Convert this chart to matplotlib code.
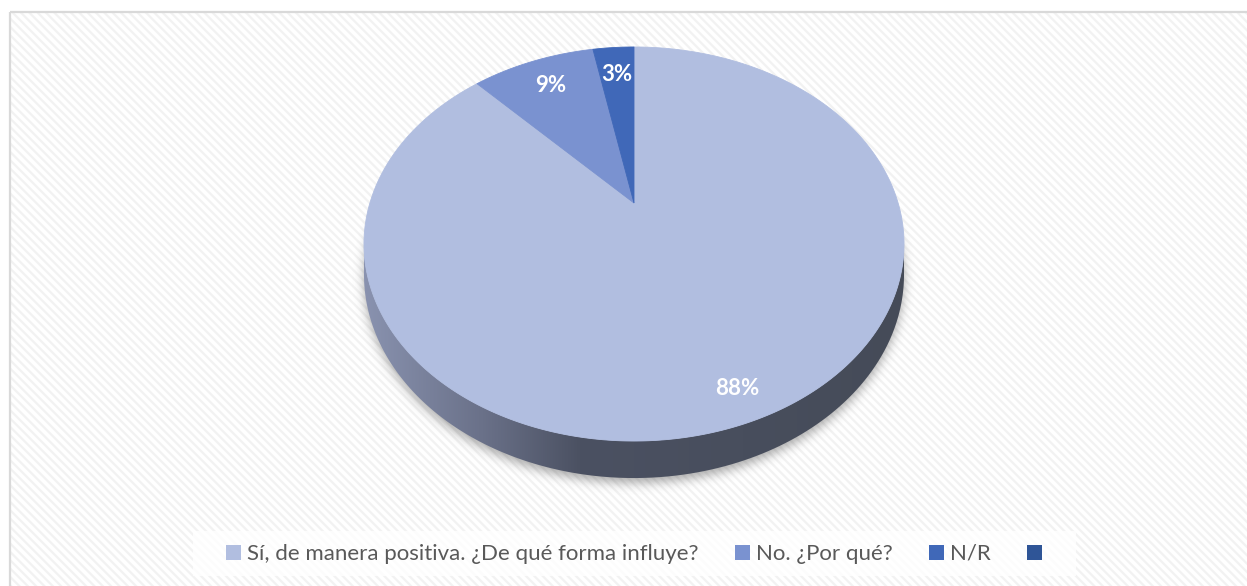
import numpy as np
import matplotlib
matplotlib.use("Agg")
import matplotlib.pyplot as plt
from matplotlib.patches import Polygon, Rectangle, Patch
from matplotlib.path import Path as MPath
from matplotlib.colors import LinearSegmentedColormap

# survey answers (share of respondents, %)
labels = ["Sí, de manera positiva. ¿De qué forma influye?", "No. ¿Por qué?", "N/R", ""]
values = [88, 9, 3, 0]
colors = ["#b1bee0", "#7a92d0", "#4068b8", "#2f5597"]

W, H = 1247, 586

# perspective disc: apex position, half axes, tilt factor and rim depth (px)
CX, CY = 634, 203
A, B, K = 264.1, 188.5, 0.2081
DEPTH = 29.3


def proj(theta, r=1.0, drop=0.0):
    """Project a point on the tilted disc; theta in degrees, clockwise from 12 o'clock."""
    t = np.radians(theta)
    u, v = r * np.sin(t), r * np.cos(t)
    w = 1 + K * v
    return CX + A * u / w, CY - B * v / w + drop / w


def blur(img, sigma):
    n = int(3 * sigma)
    k = np.exp(-0.5 * (np.arange(-n, n + 1) / sigma) ** 2)
    k /= k.sum()
    img = np.apply_along_axis(lambda r: np.convolve(r, k, mode="same"), 1, img)
    img = np.apply_along_axis(lambda c: np.convolve(c, k, mode="same"), 0, img)
    return img


fig = plt.figure(figsize=(W / 100, H / 100), dpi=100)
ax = fig.add_axes([0, 0, 1, 1])
ax.set_xlim(0, W)
ax.set_ylim(H, 0)
ax.axis("off")

plt.rcParams["hatch.linewidth"] = 1.6

# chart area: white with light diagonal stripes and a thin grey border
ax.add_patch(Rectangle((10, 12), W, H, facecolor="white", edgecolor="#f2f2f2",
                       hatch="\\\\\\\\", linewidth=0, zorder=0))
ax.add_patch(Rectangle((10, 12), W, H, facecolor="none", edgecolor="#d9d9d9",
                       linewidth=1.6, zorder=1))

# soft shadow under the disc
th = np.linspace(0, 360, 361)
bx, by = proj(th, drop=DEPTH + 4)
yy, xx = np.mgrid[0:H, 0:W]
inside = MPath(np.column_stack([bx, by])).contains_points(
    np.column_stack([xx.ravel() + 0.5, yy.ravel() + 0.5])).reshape(H, W)
shade = blur(inside.astype(float), 5.0)
rgba = np.zeros((H, W, 4))
rgba[..., :3] = 0.35
rgba[..., 3] = shade * 0.5
ax.imshow(rgba, extent=(0, W, H, 0), zorder=2, interpolation="bilinear")

# visible side wall (front half of the disc)
front = np.linspace(102, 258, 200)
tx, ty = proj(front)
sx, sy = proj(front[::-1], drop=DEPTH)
side = Polygon(np.column_stack([np.r_[tx, sx], np.r_[ty, sy]]), closed=True,
               facecolor="none", edgecolor="none", zorder=3)
ax.add_patch(side)
wall = LinearSegmentedColormap.from_list(
    "wall", [(0, "#8a93b0"), (0.22, "#6a7189"), (0.4, "#4b5162"), (1, "#454b58")])
grad = ax.imshow(np.linspace(0, 1, 256)[None, :], cmap=wall, aspect="auto",
                 extent=(CX - A * 1.03, CX + A * 1.03, 490, 230), zorder=3)
grad.set_clip_path(side)

# top face wedges, starting at 12 o'clock and running clockwise
total = sum(values)
start = 0.0
for val, col in zip(values, colors):
    span = 360.0 * val / total
    if span <= 0:
        continue
    arc = np.linspace(start, start + span, max(int(span * 2), 4))
    px, py = proj(arc)
    ax.add_patch(Polygon(np.column_stack([np.r_[CX, px], np.r_[CY, py]]), closed=True,
                         facecolor=col, edgecolor=col, linewidth=0.6, zorder=4))
    start += span

# percentage labels
start = 0.0
for val in values:
    span = 360.0 * val / total
    if val > 0:
        r = 0.88 if span > 180 else 0.8
        lx, ly = proj(start + span / 2, r=r)
        ax.text(lx, ly, f"{val}%", color="white", fontsize=16, fontweight="bold",
                family="Lato", ha="center", va="center", zorder=5)
    start += span

# legend strip
ax.add_patch(Rectangle((193, 531), 883, 45, facecolor="white", alpha=0.8,
                       edgecolor="none", zorder=5))
handles = [Patch(facecolor=c, edgecolor="none") for c in colors]
ax.legend(handles, labels, loc="center", bbox_to_anchor=(637, 554),
          bbox_transform=ax.transData, ncol=4, frameon=False,
          prop={"family": "Lato", "size": 16}, labelcolor="#595959",
          handlelength=0.68, handleheight=0.68, handletextpad=0.25,
          columnspacing=1.65, borderpad=0)

fig.savefig("out.png", dpi=100)
